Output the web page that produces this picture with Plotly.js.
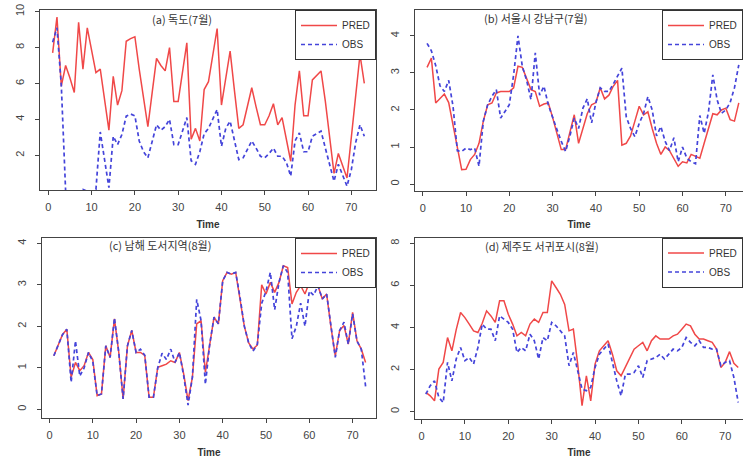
<!DOCTYPE html>
<html><head><meta charset="utf-8">
<script src="https://cdn.plot.ly/plotly-3.0.1.min.js"></script>
<style>html,body{margin:0;padding:0;background:#fff}#chart{width:743px;height:458px}</style>
</head><body><div id="chart"></div>
<script>
const time = [1,2,3,4,5,6,7,8,9,10,11,12,13,14,15,16,17,18,19,20,21,22,23,24,25,26,27,28,29,30,31,32,33,34,35,36,37,38,39,40,41,42,43,44,45,46,47,48,49,50,51,52,53,54,55,56,57,58,59,60,61,62,63,64,65,66,67,68,69,70,71,72,73];

const aPred = [7.7,9.7,5.85,7.0,6.3,5.5,9.4,6.8,9.1,7.8,6.6,6.8,5.2,3.4,6.4,4.8,5.6,8.35,8.5,8.6,6.8,5.2,3.6,5.5,7.4,7.0,6.7,8.0,5.0,5.0,6.5,8.26,2.9,3.5,2.8,5.66,6.1,7.6,9.06,4.8,6.3,7.8,5.6,3.5,3.7,4.7,5.76,4.7,3.7,3.7,4.2,4.87,3.7,4.1,2.9,1.67,4.8,6.7,4.2,4.2,6.2,6.45,6.7,5.0,3.0,1.0,2.1,1.4,0.74,3.0,5.2,7.6,6.0];
const aObs = [8.3,9.1,5.9,0.0,0.0,0.0,0.0,0.1,0.0,0.0,0.1,3.3,1.7,0.2,3.06,2.6,3.16,4.18,4.3,4.2,2.8,2.2,1.86,2.8,3.7,3.4,3.6,4.0,2.6,2.6,3.3,4.1,1.7,1.5,2.2,3.2,3.5,4.0,4.55,2.5,3.5,3.9,2.8,1.76,1.86,2.3,2.8,2.4,1.95,1.86,2.1,2.4,1.95,1.95,1.6,0.84,2.8,3.25,2.2,2.2,3.06,3.2,3.35,2.4,1.4,0.56,1.5,0.9,0.28,1.2,2.7,3.7,3.06];

const bPred = [3.15,3.4,2.19,2.3,2.43,2.2,1.6,0.9,0.39,0.4,0.66,0.8,1.1,1.7,2.14,2.19,2.46,2.5,2.5,2.5,2.6,3.18,3.15,2.85,2.55,2.5,2.1,2.16,2.19,1.8,1.4,0.93,0.93,1.4,1.87,1.1,1.5,1.9,2.14,2.2,2.6,2.3,2.4,2.64,2.8,1.05,1.1,1.3,1.7,2.1,1.87,1.95,1.5,1.1,0.8,1.0,0.9,0.7,0.48,0.6,0.57,0.8,0.75,0.7,1.1,1.5,1.9,1.87,2.0,2.05,1.74,1.7,2.19];
const bObs = [3.8,3.6,3.2,2.65,2.5,2.8,2.1,0.9,0.88,0.97,0.93,0.97,0.48,1.7,2.14,2.37,2.55,1.78,1.96,2.14,2.95,4.0,3.18,2.8,2.28,3.54,2.4,2.64,2.14,1.78,1.47,1.15,0.88,1.3,1.78,1.5,2.05,2.3,1.65,2.2,2.6,2.5,2.5,2.7,2.9,3.13,1.82,1.5,1.28,1.64,1.9,2.36,2.0,1.3,1.55,1.15,0.9,1.25,0.6,1.0,0.7,0.6,0.55,1.85,1.37,1.95,2.95,2.27,1.91,2.0,2.2,2.6,3.22];

const cPred = [1.29,1.55,1.8,1.93,0.77,1.13,0.93,1.05,1.37,1.2,0.33,0.37,1.53,1.25,2.18,1.37,0.25,1.53,1.9,1.37,1.37,1.3,0.29,0.29,1.01,1.05,1.09,1.17,1.13,1.37,0.85,0.21,0.77,2.06,2.14,0.89,1.57,2.22,2.06,3.1,3.3,3.26,3.3,2.7,2.0,1.6,1.45,1.55,3.0,2.78,3.06,2.82,3.06,3.46,3.42,2.54,2.82,2.98,2.78,3.06,3.02,2.98,2.66,2.78,1.98,1.29,1.9,2.02,1.57,2.34,1.65,1.45,1.13];
const cObs = [1.29,1.55,1.8,1.93,0.65,1.65,0.8,1.0,1.37,1.15,0.33,0.37,1.53,1.25,2.2,1.37,0.25,1.53,1.9,1.37,1.45,1.3,0.29,0.29,1.0,1.35,1.2,1.45,1.13,1.37,0.8,0.1,0.77,2.65,2.14,0.6,1.57,2.22,2.06,3.1,3.3,3.26,3.3,2.7,2.0,1.6,1.4,1.57,2.55,2.85,3.3,2.4,3.06,3.46,3.3,1.7,2.0,2.56,2.0,2.85,2.75,2.98,2.66,2.78,1.98,1.25,1.9,2.1,1.57,2.3,1.65,1.45,0.55];

const dPred = [0.91,0.75,0.51,2.02,2.34,3.52,2.89,3.9,4.71,4.47,4.16,3.84,3.76,4.2,4.79,4.55,4.24,5.27,5.27,4.63,4.16,3.6,3.76,3.6,4.16,4.4,4.24,4.71,4.71,6.22,5.9,5.58,5.1,3.84,3.92,2.26,0.28,1.7,0.51,2.26,2.89,3.13,3.37,2.73,1.94,1.7,2.1,2.5,2.97,3.13,3.29,2.89,3.37,3.6,3.45,3.45,3.45,3.6,3.68,3.92,4.16,4.08,3.68,3.45,3.45,3.37,3.29,2.97,2.1,2.34,2.85,2.3,2.1];
const dObs = [0.83,1.23,1.46,0.67,0.43,2.34,1.46,2.5,3.05,2.42,2.57,2.26,3.05,4.16,3.92,3.92,3.37,4.55,4.4,4.24,3.92,2.81,3.05,2.89,3.68,3.37,2.5,3.52,3.37,4.24,4.08,3.84,3.6,2.18,2.81,1.94,1.07,0.99,1.15,2.1,2.73,2.97,3.21,2.34,1.46,0.75,1.78,1.78,1.86,2.18,1.62,2.42,2.5,2.57,2.73,2.5,2.73,2.97,2.89,3.05,3.52,3.29,3.13,3.37,3.05,3.05,2.97,2.97,2.18,2.34,2.42,1.62,0.43];

const panelTitles = ['(a) 독도(7월)','(b) 서울시 강남구(7월)','(c) 남해 도서지역(8월)','(d) 제주도 서귀포시(8월)'];
const seriesNames = ['PRED','OBS'];
const xTicks = [0,10,20,30,40,50,60,70];
const yTicksA = [2,4,6,8,10];
const yTicksB = [0,1,2,3,4];
const yTicksC = [0,1,2,3,4];
const yTicksD = [0,2,4,6,8];

const W = 743, H = 458;
const RED = '#f04848', BLUE = '#4444da';
const panels = [
  {pred:aPred, obs:aObs, L:40,  R:376, T:10,  B:190,   xr:[-1.92,75.7], yr:[0.07,10.09], yt:yTicksA, lgx:376},
  {pred:bPred, obs:bObs, L:415, R:743, T:10,  B:190.7, xr:[-1.78,73.97], yr:[-0.18,4.7], yt:yTicksB, lgx:743},
  {pred:cPred, obs:cObs, L:42,  R:376, T:238, B:418,   xr:[-1.73,75.4], yr:[-0.21,4.13], yt:yTicksC, lgx:376},
  {pred:dPred, obs:dObs, L:415, R:743, T:237.5, B:418.5, xr:[-1.5,74.1], yr:[-0.33,8.28], yt:yTicksD, lgx:743}
];
const titlePos = [[182,19],[536,17.5],[160,245],[542,246]];

const traces = [];
const layout = {
  width: W, height: H,
  margin: {l:0, r:0, t:0, b:0, autoexpand:false},
  paper_bgcolor: '#fff', plot_bgcolor: '#fff',
  font: {family: 'Liberation Sans, Arial, sans-serif', color: '#333'},
  annotations: [],
  showlegend: true
};
const axBase = {
  showline:true, mirror:true, linecolor:'#444', linewidth:1,
  ticks:'outside', ticklen:4, tickcolor:'#444', tickwidth:1,
  showgrid:false, zeroline:false, fixedrange:true,
  tickfont:{family:'Liberation Sans, Arial, sans-serif', size:11, color:'#444'}
};
panels.forEach((p, i) => {
  const n = i === 0 ? '' : String(i+1);
  const xa = 'x' + n, ya = 'y' + n;
  const lgName = 'legend' + n;
  traces.push({x: time, y: p.pred, type:'scatter', mode:'lines', name: seriesNames[0],
    xaxis: xa, yaxis: ya, legend: lgName, line:{color:RED, width:1.5}});
  traces.push({x: time, y: p.obs, type:'scatter', mode:'lines', name: seriesNames[1],
    xaxis: xa, yaxis: ya, legend: lgName, line:{color:BLUE, width:1.7, dash:'4px,3px'}});
  layout['xaxis' + n] = Object.assign({}, axBase, {
    domain:[p.L/W, p.R/W], anchor: ya, range: p.xr, tickvals: xTicks,
    ticklabelstandoff: 3,
    title:{text:'Time', standoff:8, font:{size:10, color:'#333', weight:'bold'}}
  });
  layout['yaxis' + n] = Object.assign({}, axBase, {
    domain:[1 - p.B/H, 1 - p.T/H], anchor: xa, range: p.yr, tickvals: p.yt,
    tickangle: -90, ticklabelstandoff: 7
  });
  layout[lgName] = {
    x: p.lgx/W, xanchor: 'right', y: 1 - p.T/H, yanchor:'top',
    xref:'paper', yref:'paper',
    bgcolor:'#fff', bordercolor:'#333', borderwidth:1,
    font:{family:'Liberation Sans, Arial, sans-serif', size:10, color:'#333'},
    tracegroupgap:0, itemwidth:36
  };
  layout.annotations.push({
    xref:'paper', yref:'paper', x: titlePos[i][0]/W, y: 1 - titlePos[i][1]/H,
    xanchor:'center', yanchor:'middle', showarrow:false, text: panelTitles[i],
    font:{family:'Noto Sans CJK KR, Noto Sans, sans-serif', size:11, color:'#333'}
  });
});
Plotly.newPlot('chart', traces, layout, {staticPlot:true, displayModeBar:false});
</script></body></html>
